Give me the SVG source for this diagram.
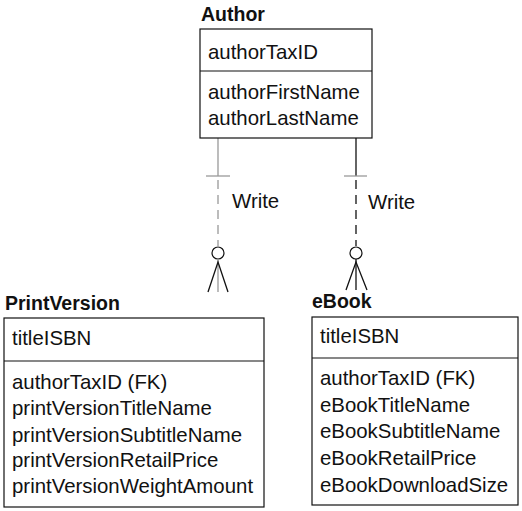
<svg xmlns="http://www.w3.org/2000/svg" width="522" height="511" viewBox="0 0 522 511">
<style>
text{font-family:"Liberation Sans",Arial,sans-serif;font-size:20.4px;fill:#111}
.t{font-weight:bold;font-size:19.5px}
.box{fill:#fff;stroke:#111;stroke-width:1.2}
.div{stroke:#111;stroke-width:1.2}
.g{stroke:#999;stroke-width:1.3;fill:none}
.k{stroke:#111;stroke-width:1.3;fill:none}
.d{stroke-dasharray:9,6}
</style>
<rect width="522" height="511" fill="#fff"/>
<g id="connectors">
<g id="write-print">
<line class="g" x1="218" y1="138" x2="218" y2="176"/>
<line class="g" x1="206" y1="176" x2="230" y2="176"/>
<line class="g d" x1="218" y1="180" x2="218" y2="246"/>
<circle cx="218" cy="253" r="6" fill="#fff" stroke="#111" stroke-width="1.2"/>
<line class="g" x1="218" y1="259" x2="218" y2="292"/>
<polyline class="k" points="208,292 218,262 228,292"/>
<text x="232" y="208">Write</text>
</g>
<g id="write-ebook">
<line class="k" x1="356" y1="138" x2="356" y2="176"/>
<line class="g" x1="344" y1="176" x2="367" y2="176"/>
<line class="k d" x1="356" y1="180" x2="356" y2="246"/>
<circle cx="356" cy="253" r="6" fill="#fff" stroke="#111" stroke-width="1.2"/>
<line class="k" x1="356" y1="259" x2="356" y2="290"/>
<polyline class="k" points="346,290 356,262 367,290"/>
<text x="368" y="209">Write</text>
</g>
</g>
<g id="author">
<text class="t" x="201" y="21">Author</text>
<rect class="box" x="200" y="29" width="172" height="109"/>
<line class="div" x1="200" y1="71" x2="372" y2="71"/>
<text x="208" y="59">authorTaxID</text>
<text x="208" y="99">authorFirstName</text>
<text x="208" y="125">authorLastName</text>
</g>
<g id="printversion">
<text class="t" x="5" y="310">PrintVersion</text>
<rect class="box" x="4" y="318" width="260" height="189"/>
<line class="div" x1="4" y1="361" x2="264" y2="361"/>
<text x="12" y="345">titleISBN</text>
<text x="12" y="389">authorTaxID (FK)</text>
<text x="12" y="415">printVersionTitleName</text>
<text x="12" y="442">printVersionSubtitleName</text>
<text x="12" y="467">printVersionRetailPrice</text>
<text x="12" y="493">printVersionWeightAmount</text>
</g>
<g id="ebook">
<text class="t" x="312" y="308">eBook</text>
<rect class="box" x="312" y="317" width="206" height="188"/>
<line class="div" x1="312" y1="358" x2="518" y2="358"/>
<text x="320" y="343">titleISBN</text>
<text x="320" y="385">authorTaxID (FK)</text>
<text x="320" y="412">eBookTitleName</text>
<text x="320" y="438">eBookSubtitleName</text>
<text x="320" y="465">eBookRetailPrice</text>
<text x="320" y="492">eBookDownloadSize</text>
</g>
</svg>
